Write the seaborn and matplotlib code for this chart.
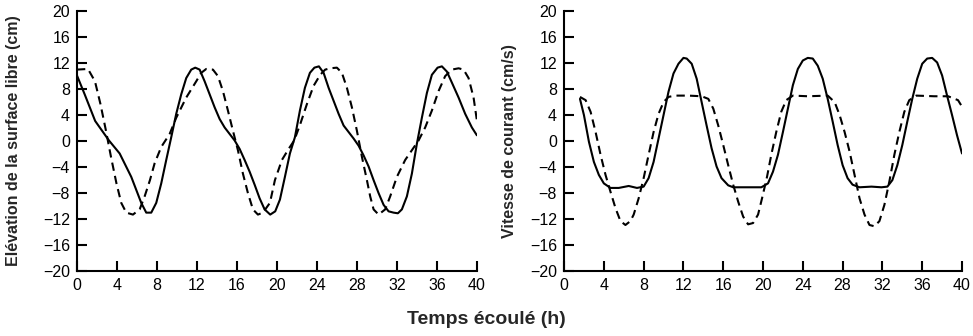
import pandas as pd
import matplotlib.pyplot as plt
import seaborn as sns

# Left panel: surface elevation (cm)
ELEV_SOLID_T = [0, 0.77, 1.82, 3.2, 4.27, 5.43, 6.43, 6.93, 7.43, 7.93, 8.43, 8.93, 9.43, 9.93, 10.43, 10.93,
                11.43, 11.83, 12.27, 12.77, 13.27, 13.77, 14.27, 14.77, 15.27, 15.77, 16.27, 16.77, 17.27, 17.77,
                18.27, 18.77, 19.33, 19.83, 20.3, 20.8, 21.3, 21.8, 22.3, 22.8, 23.3, 23.75, 24.2, 24.67, 25.17,
                25.67, 26.17, 26.67, 27.17, 27.67, 28.17, 28.67, 29.17, 29.67, 30.17, 30.67, 31.17, 31.67, 32.1,
                32.5, 33.0, 33.5, 34.0, 34.5, 35.0, 35.5, 36.07, 36.5, 37.0, 37.5, 38.17, 38.83, 39.5, 40]
ELEV_SOLID = [10.1, 7.2, 3.1, 0.1, -1.9, -5.5, -9.5, -11.0, -11.0, -9.5, -6.5, -2.9, 0.6, 4.2, 7.2, 9.7,
              11.0, 11.3, 11.0, 9.2, 7.2, 5.2, 3.4, 2.1, 1.1, 0.1, -1.2, -2.9, -4.7, -6.7,
              -8.8, -10.5, -11.3, -10.8, -9.0, -5.5, -1.9, 0.6, 4.7, 8.2, 10.5, 11.3, 11.5, 10.5, 8.2,
              6.2, 4.2, 2.4, 1.4, 0.4, -0.7, -2.2, -3.9, -6.0, -8.0, -9.8, -10.8, -11.0, -11.1,
              -10.5, -8.5, -5.0, -0.4, 3.6, 7.4, 10.2, 11.3, 11.5, 10.7, 9.0, 6.7, 4.2, 2.1, 0.9]
ELEV_DASH_T = [0, 1.1, 1.8, 2.35, 2.9, 3.4, 3.95, 4.43, 4.93, 5.6, 6.27, 6.77, 7.3, 7.77, 8.43, 9.27, 9.93,
               10.93, 11.93, 12.43, 12.93, 13.6, 14.1, 14.6, 15.1, 15.6, 16.1, 16.6, 17.1, 17.6, 18.1, 18.6,
               19.3, 19.8, 20.5, 21.17, 21.73, 22.33, 23.0, 23.67, 24.33, 24.83, 25.33, 26.0, 26.5, 27.0,
               27.5, 28.0, 28.5, 29.0, 29.33, 29.67, 30.17, 30.83, 31.33, 32.0, 32.83, 33.5, 34.17, 34.83,
               35.5, 36.17, 36.83, 37.5, 38.17, 38.67, 39.17, 39.67, 40]
ELEV_DASH = [11.0, 11.1, 9.2, 5.7, 1.6, -2.4, -6.5, -9.5, -11.0, -11.3, -10.5, -8.5, -6.0, -3.4, -0.9, 1.1, 3.6,
             6.7, 9.2, 10.5, 11.1, 11.0, 10.0, 7.7, 4.7, 1.6, -1.4, -5.0, -8.0, -10.5, -11.3, -11.0,
             -9.5, -6.0, -2.9, -1.2, 0.1, 2.6, 5.7, 8.5, 10.2, 11.0, 11.2, 11.3, 10.5, 8.2,
             5.2, 1.6, -2.4, -6.0, -8.5, -10.5, -11.3, -10.5, -8.5, -5.5, -2.9, -1.4, 0.1, 2.1,
             4.7, 7.7, 10.0, 11.0, 11.2, 11.0, 9.7, 6.7, 3.2]

# Right panel: current speed (cm/s)
VIT_SOLID_T = [1.6, 2.0, 2.5, 3.0, 3.5, 4.0, 4.67, 5.5, 6.5, 7.33, 8.0, 8.5, 9.0, 9.5, 10.0, 10.5, 11.0, 11.5,
               12.0, 12.33, 12.83, 13.33, 13.83, 14.33, 14.83, 15.33, 15.83, 16.5, 17.0, 18.17, 19.83, 20.5,
               21.0, 21.5, 22.0, 22.5, 23.0, 23.5, 24.0, 24.5, 25.0, 25.5, 26.0, 26.5, 27.0, 27.5, 28.0, 28.5,
               29.0, 29.7, 30.9, 31.9, 32.5, 33.0, 33.5, 34.0, 34.5, 35.0, 35.5, 36.0, 36.5, 37.0, 37.5, 38.0,
               38.5, 39.0, 39.5, 40]
VIT_SOLID = [6.5, 4.0, -0.1, -3.2, -5.2, -6.5, -7.2, -7.2, -6.9, -7.2, -7.0, -5.7, -3.2, 0.4, 4.0, 7.6, 10.4, 11.9,
             12.8, 12.7, 11.9, 9.6, 6.0, 2.4, -1.1, -3.9, -5.7, -6.8, -7.1, -7.1, -7.1, -6.5,
             -4.7, -2.1, 1.4, 5.0, 8.6, 11.1, 12.4, 12.8, 12.7, 11.6, 9.6, 6.5, 3.0, -0.6, -3.7, -5.7,
             -6.7, -7.1, -7.0, -7.1, -7.0, -6.0, -3.7, -0.6, 3.0, 6.5, 9.6, 11.9, 12.7, 12.8, 12.1, 10.1,
             7.0, 4.0, 0.9, -1.9]
VIT_DASH_T = [1.6, 2.17, 2.67, 3.17, 3.67, 4.17, 4.67, 5.17, 5.67, 6.17, 6.67, 7.0, 7.5, 8.0, 8.5, 9.0, 9.5,
              10.0, 10.5, 11.17, 12.5, 13.83, 14.5, 15.0, 15.5, 16.0, 16.5, 17.0, 17.5, 18.0, 18.5, 19.0,
              19.5, 19.9, 20.4, 20.83, 21.33, 21.83, 22.33, 23.0, 24.5, 26.5, 27.2, 27.7, 28.2, 28.7, 29.2,
              29.7, 30.2, 30.7, 31.2, 31.7, 32.2, 32.7, 33.2, 33.7, 34.2, 34.7, 35.4, 37.2, 38.6, 39.6, 40]
VIT_DASH = [6.8, 6.3, 4.5, 1.4, -2.1, -5.2, -7.8, -10.3, -12.3, -12.9, -12.3, -11.3, -8.8, -5.7, -2.1, 1.4, 4.2,
            6.0, 6.8, 7.0, 7.0, 6.9, 6.5, 5.0, 2.4, -0.6, -3.7, -6.7, -9.3, -11.6, -12.8, -12.6,
            -11.3, -8.8, -5.5, -2.1, 1.4, 4.5, 6.3, 7.0, 6.9, 7.0, 6.0, 4.0, 1.4, -1.6, -5.2,
            -8.8, -11.3, -12.9, -13.1, -12.3, -9.8, -6.2, -2.1, 1.4, 4.5, 6.3, 7.0, 6.9, 6.9, 6.3, 5.3]

X_TICKS = list(range(0, 41, 4))
Y_TICKS = list(range(-20, 21, 4))

sns.set_style("ticks")
plt.rcParams["font.family"] = ["Liberation Sans", "DejaVu Sans"]

fig = plt.figure(figsize=(9.73, 3.36), dpi=100)
ax1 = fig.add_axes([0.0791, 0.193, 0.411, 0.774])
ax2 = fig.add_axes([0.5797, 0.193, 0.409, 0.774])


def draw(ax, ts, ys, td, yd, ylabel, label_x):
    solid = pd.DataFrame({"t": ts, "v": ys})
    dash = pd.DataFrame({"t": td, "v": yd})
    sns.lineplot(data=solid, x="t", y="v", ax=ax, color="black", linewidth=1.5)
    sns.lineplot(data=dash, x="t", y="v", ax=ax, color="black", linewidth=1.5)
    ax.lines[-1].set_dashes((4, 2.5))
    ax.set_xlim(0, 40)
    ax.set_ylim(-20, 20)
    ax.set_xticks(X_TICKS)
    ax.set_yticks(Y_TICKS)
    sns.despine(ax=ax)
    for side in ["left", "bottom"]:
        ax.spines[side].set_visible(True)
        ax.spines[side].set_linewidth(1.5)
        ax.spines[side].set_color("black")
    ax.set_xlabel("")
    ax.set_ylabel(ylabel, fontsize=11.5, fontweight="bold")
    ax.yaxis.set_label_coords(label_x, 0.5)
    ax.tick_params(direction="in", length=7, width=1.5, labelsize=11.5, pad=5, color="black",
                   labelcolor="black")


draw(ax1, ELEV_SOLID_T, ELEV_SOLID, ELEV_DASH_T, ELEV_DASH, "Elévation de la surface libre (cm)", -0.14)
draw(ax2, VIT_SOLID_T, VIT_SOLID, VIT_DASH_T, VIT_DASH, "Vitesse de courant (cm/s)", -0.118)

fig.text(0.5, 0.05, "Temps écoulé (h)", ha="center", va="center", fontsize=14, fontweight="bold")

fig.savefig("out.png", dpi=100)
